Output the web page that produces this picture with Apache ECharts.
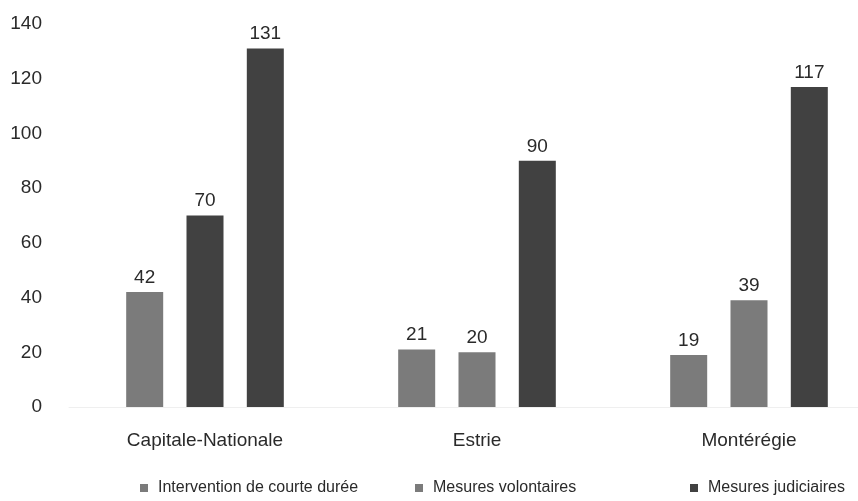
<!DOCTYPE html>
<html>
<head>
<meta charset="utf-8">
<script src="https://cdn.jsdelivr.net/npm/echarts@6/dist/echarts.min.js"></script>
<style>
  html, body { margin: 0; padding: 0; background: #ffffff; }
  #chart { width: 858px; height: 501px; }
</style>
</head>
<body>
<div id="chart"></div>
<script>
// Regions and counts per type of intervention
const regions = ['Capitale-Nationale', 'Estrie', 'Montérégie'];
const seriesNames = ['Intervention de courte durée', 'Mesures volontaires', 'Mesures judiciaires'];
const courteDuree = [42, 21, 19];
const volontaires = [70, 20, 39];
const judiciaires = [131, 90, 117];
const yTicks = [0, 20, 40, 60, 80, 100, 120, 140];

const FONT = "'Liberation Sans', Arial, sans-serif";
const GREY = '#7b7b7b';
const DARK = '#414141';
const TEXT = '#2a2a2a';

// the Capitale-Nationale bar of the second series is drawn in the dark shade
const volontairesData = volontaires.map((v, i) =>
  i === 0 ? { value: v, itemStyle: { color: DARK } } : v);

const chart = echarts.init(document.getElementById('chart'), null, { renderer: 'canvas' });

function bar(name, data, color) {
  return {
    name: name,
    type: 'bar',
    data: data,
    barWidth: 37,
    barGap: '63%',
    itemStyle: { color: color },
    label: {
      show: true,
      position: 'top',
      distance: 5,
      color: TEXT,
      fontFamily: FONT,
      fontSize: 19
    }
  };
}

function legendItem(name, left) {
  return {
    data: [name],
    left: left,
    top: 475,
    icon: 'rect',
    itemWidth: 8,
    itemHeight: 8,
    textStyle: { color: TEXT, fontFamily: FONT, fontSize: 16, padding: [0, 0, 0, 5] },
    selectedMode: false
  };
}

chart.setOption({
  animation: false,
  backgroundColor: '#ffffff',
  // the category bands run past the right edge of the canvas
  grid: { left: 69, width: 816, top: 24, bottom: 94, containLabel: false, outerBoundsMode: 'none' },
  legend: [
    legendItem(seriesNames[0], 135),
    legendItem(seriesNames[1], 410),
    legendItem(seriesNames[2], 685)
  ],
  xAxis: {
    type: 'category',
    data: regions,
    axisLine: { show: true, lineStyle: { color: '#efefef', width: 1 } },
    axisTick: { show: false },
    axisLabel: { color: TEXT, fontFamily: FONT, fontSize: 19, margin: 24 }
  },
  yAxis: {
    type: 'value',
    min: yTicks[0],
    max: yTicks[yTicks.length - 1],
    interval: yTicks[1] - yTicks[0],
    axisLine: { show: false },
    axisTick: { show: false },
    splitLine: { show: false },
    axisLabel: { color: TEXT, fontFamily: FONT, fontSize: 19, margin: 27 }
  },
  series: [
    bar(seriesNames[0], courteDuree, GREY),
    bar(seriesNames[1], volontairesData, GREY),
    bar(seriesNames[2], judiciaires, DARK)
  ]
});
</script>
</body>
</html>
